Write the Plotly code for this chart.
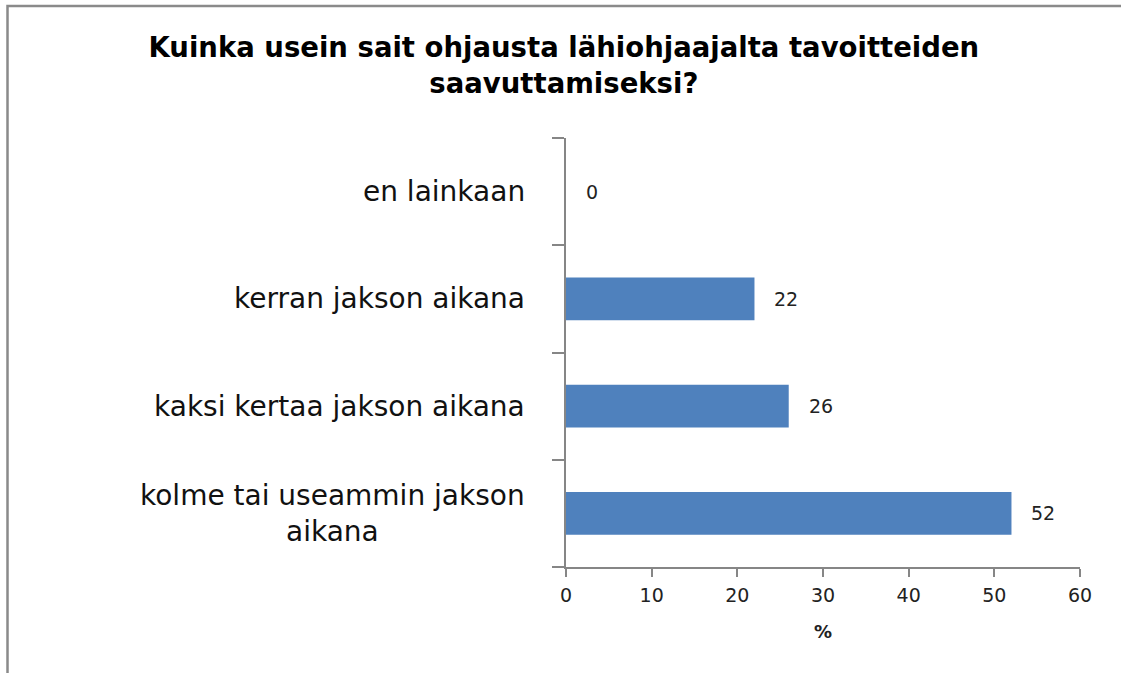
import plotly.graph_objects as go

categories = ["en lainkaan", "kerran jakson aikana", "kaksi kertaa jakson aikana",
              "kolme tai useammin jakson<br>aikana"]
values = [0, 22, 26, 52]
x_ticks = [0, 10, 20, 30, 40, 50, 60]
title_text = "Kuinka usein sait ohjausta lähiohjaajalta tavoitteiden<br>saavuttamiseksi?"
x_title = "%"

W, H = 1121, 673
L, R, T, B = 566, 41, 138, 106
pw = W - L - R
ph = H - T - B

fig = go.Figure()
fig.add_trace(go.Bar(
    x=values, y=categories, orientation="h",
    marker=dict(color="#4F81BD", line=dict(width=0)),
    hoverinfo="skip",
))

# data labels
for c, v in zip(categories, values):
    fig.add_annotation(x=v, y=c, xref="x", yref="y", text=str(v), showarrow=False,
                       xanchor="left", xshift=18,
                       font=dict(family="DejaVu Sans", size=19, color="#222222"))
# category labels (centered multi-line like Excel)
for c in categories:
    fig.add_annotation(x=0, y=c, xref="paper", yref="y", text=c, showarrow=False,
                       xanchor="right", align="center", xshift=-39,
                       font=dict(family="DejaVu Sans", size=28, color="#111111"))

# outer chart border
def px2x(p):
    return (p - L) / pw

def py2y(p):
    return (H - B - p) / ph

fig.add_shape(type="rect", xref="paper", yref="paper",
              x0=px2x(7.5), x1=px2x(1400), y0=py2y(800), y1=py2y(6),
              line=dict(color="#8A8A8A", width=2.5), fillcolor="rgba(0,0,0,0)")

fig.update_layout(
    width=W, height=H,
    margin=dict(l=L, r=R, t=T, b=B, pad=0),
    paper_bgcolor="white", plot_bgcolor="white",
    showlegend=False,
    bargap=0.6,
    title=dict(text=title_text, x=0.503, xanchor="center", y=1 - 57 / H, yanchor="middle",
               font=dict(family="DejaVu Sans", size=27.5, color="#000000", weight="bold")),
    xaxis=dict(range=[0, 60], tickvals=x_ticks, showgrid=False, zeroline=False,
               showline=True, linecolor="#868686", linewidth=1.5,
               ticks="outside", ticklen=8, tickcolor="#868686", tickwidth=1.5,
               ticklabelstandoff=2,
               tickfont=dict(family="DejaVu Sans", size=19, color="#222222"),
               title=dict(text=x_title, standoff=21,
                          font=dict(family="DejaVu Sans", size=18, color="#222222", weight="bold")),
               fixedrange=True),
    yaxis=dict(categoryorder="array", categoryarray=categories[::-1], type="category",
               showgrid=False, zeroline=False, showline=True, linecolor="#868686", linewidth=1.5,
               ticks="outside", ticklen=12, tickcolor="#868686", tickwidth=1.5,
               tickson="boundaries", showticklabels=False, fixedrange=True),
)

fig.write_html("out.html", config={"displayModeBar": False},
               post_script="document.body.style.margin='0';")
